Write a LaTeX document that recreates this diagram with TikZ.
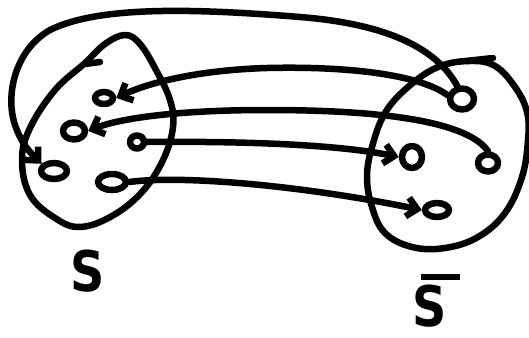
\documentclass[tikz,border=0pt]{standalone}
\usepackage{fontspec}
\setmainfont{DejaVu Sans}
\usetikzlibrary{shapes.geometric,arrows.meta}
\begin{document}
\begin{tikzpicture}[x=1pt,y=-1pt,
  pen/.style={line width=6.5pt,line cap=round,line join=round},
  elt/.style={ellipse,draw,pen,inner sep=0pt},
  arr/.style={pen,-{Straight Barb[length=10pt,width=19pt,line width=6.5pt]}},
  lbl/.style={inner sep=0pt,font=\fontsize{56}{56}\selectfont\bfseries,xscale=0.85,transform shape}]
\useasboundingbox (0,0) rectangle (529,337);
% set outlines
\draw[pen] plot[smooth cycle,tension=0.65] coordinates {(125,35) (140,44) (156,70) (170,100) (173,127) (163,160) (142,192) (112,216) (80,227) (55,218) (30,195) (22,160) (30,128) (55,90) (85,63) (105,44)};
\draw[pen] (85,64) -- (100,62);
\draw[pen] plot[smooth cycle,tension=0.65] coordinates {(470,61) (495,66) (515,87) (527,112) (528,140) (522,177) (505,213) (478,237) (445,248) (412,247) (385,233) (372,207) (367,177) (372,147) (385,113) (408,87) (438,67)};
\draw[pen] (466,61) -- (493,58);
% elements
\node[elt,minimum width=18pt,minimum height=12pt] (a1) at (104,98) {};
\node[elt,minimum width=22pt,minimum height=17pt] (a2) at (74,131) {};
\node[elt,minimum width=14pt,minimum height=13pt] (a3) at (137,142) {};
\node[elt,minimum width=26pt,minimum height=16pt] (a4) at (54,171) {};
\node[elt,minimum width=28pt,minimum height=16pt] (a5) at (112,182) {};
\node[elt,minimum width=24pt,minimum height=21pt] (b1) at (462,99) {};
\node[elt,minimum width=20pt,minimum height=22pt] (b2) at (412,157) {};
\node[elt,minimum width=20pt,minimum height=17pt] (b3) at (488,163) {};
\node[elt,minimum width=24pt,minimum height=14pt] (b4) at (437,210) {};
% connectors
\draw[arr] (b1.110) .. controls (440,55) and (400,25) .. (300,17) .. controls (200,9) and (100,5) .. (50,30) .. controls (15,50) and (5,95) .. (15,125) .. controls (22,145) and (30,152) .. (a4.150);
\draw[arr] (b1.165) .. controls (420,75) and (350,66) .. (267,68) .. controls (200,70) and (150,82) .. (a1.east);
\draw[arr] (b3.north) .. controls (470,125) and (400,110) .. (267,110) .. controls (180,110) and (120,118) .. (a2.east);
\draw[arr] (a3.east) .. controls (250,141) and (340,145) .. (b2.west);
\draw[arr] (a5.east) .. controls (180,175) and (300,185) .. (b4.west);
% labels
\node[lbl,anchor=base] (s) at (88,291) {S};
\node[lbl,anchor=base] (sbar) at (430,326) {\rlap{\kern10pt\raise 46pt\hbox{\vrule width 46pt height 6pt depth 0pt}}S};
\end{tikzpicture}
\end{document}
